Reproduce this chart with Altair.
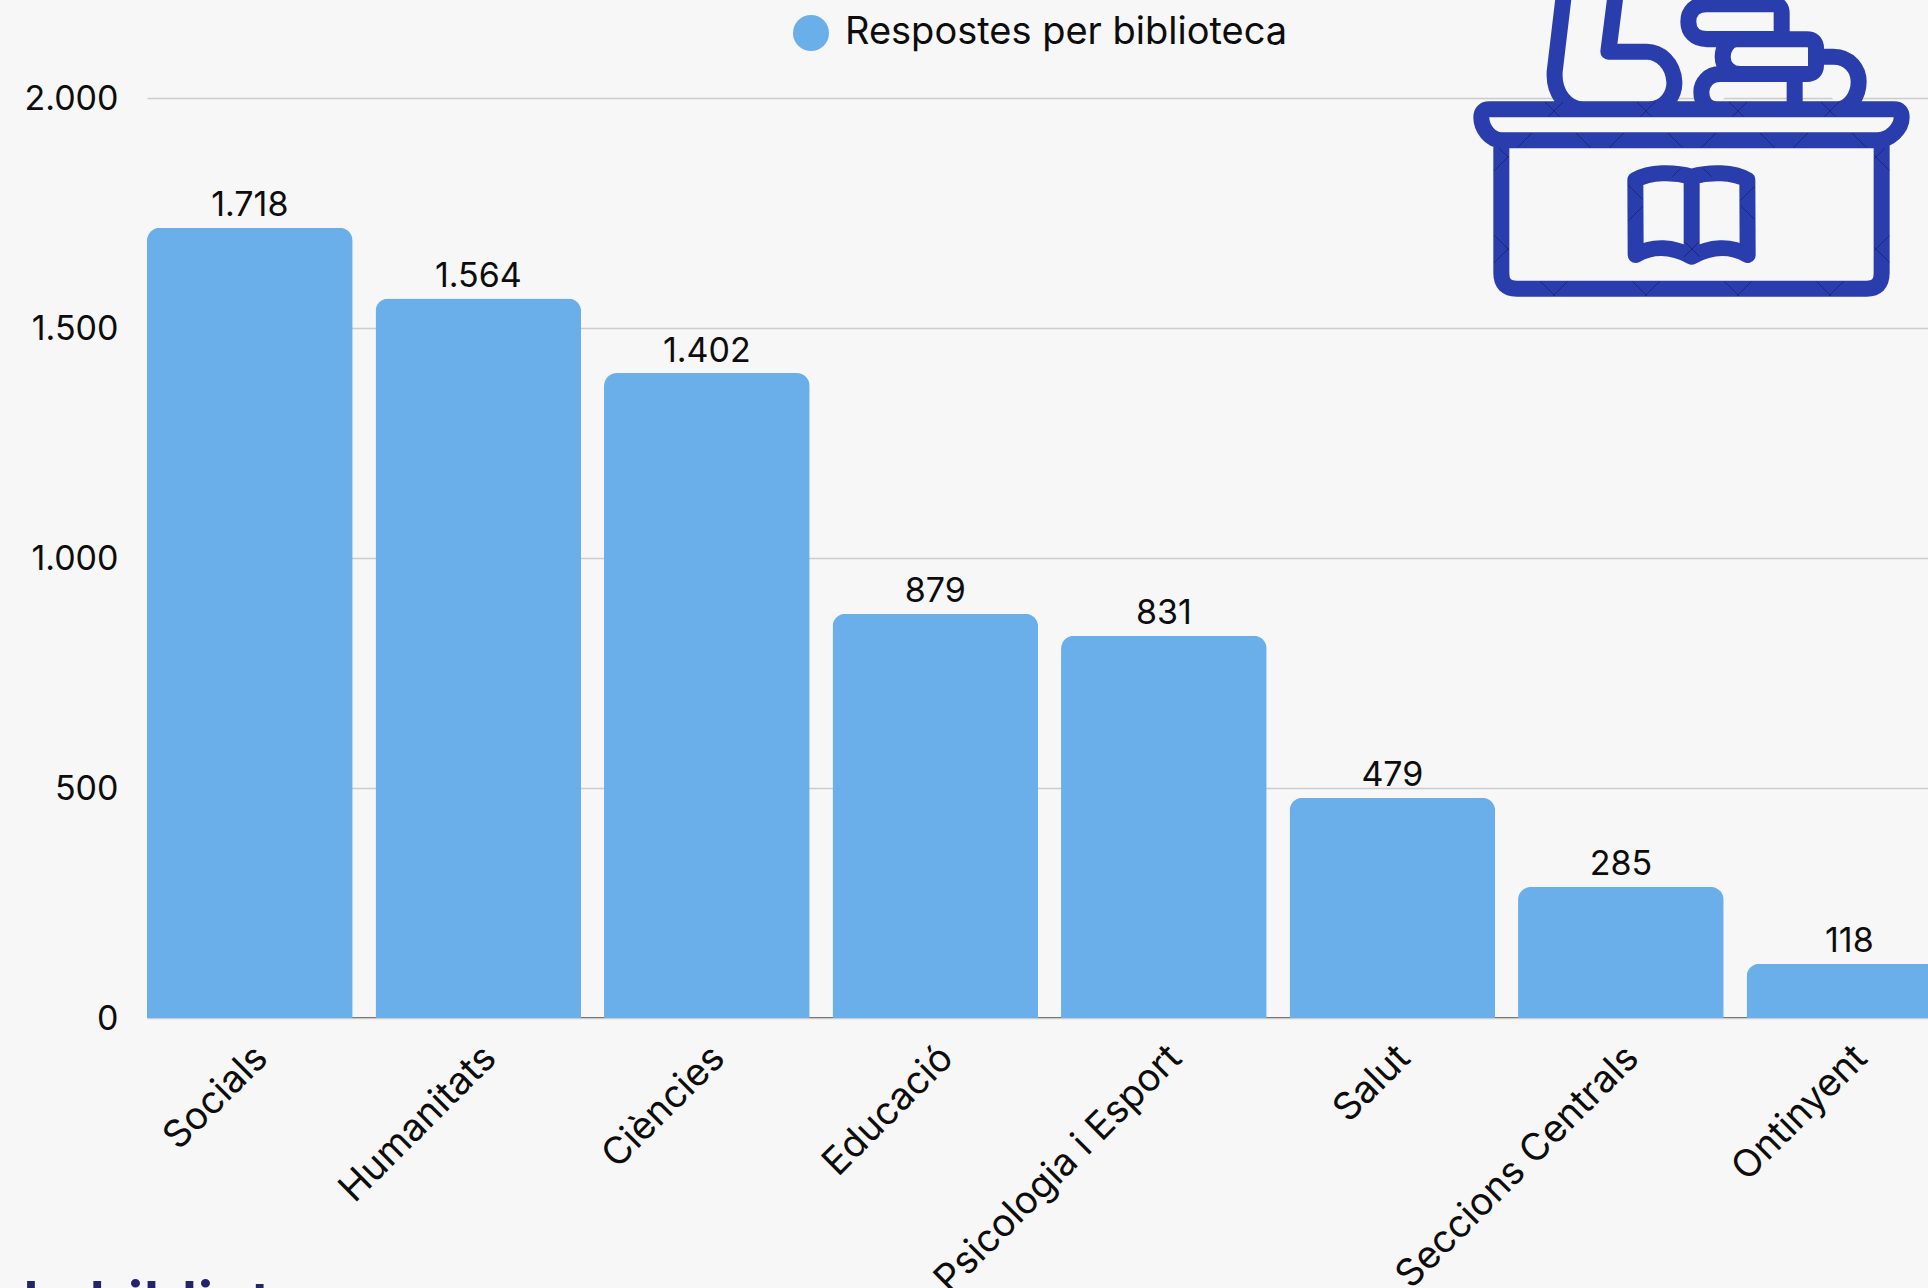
import re

import altair as alt
import pandas as pd

# Survey responses per library
libraries = ["Socials", "Humanitats", "Ciències", "Educació", "Psicologia i Esport",
             "Salut", "Seccions Centrals", "Ontinyent"]
responses = [1718, 1564, 1402, 879, 831, 479, 285, 118]
series_name = "Respostes per biblioteca"
y_ticks = [0, 500, 1000, 1500, 2000]
footer_text = "la biblioteca"

BACKGROUND = "#f7f7f7"
BAR = "#6bafea"
INK = "#0d0d0d"
NAVY = "#24246c"
ICON = "#2a3dac"
FONT = "Inter"

# Librarian-at-a-desk pictogram, outlined in absolute drawing units
ICON_CX, ICON_CY, ICON_R = 755.0, 400.0, 660.0
ICON_PATHS = [
    # counter top
    "M148 328 L1362 328 Q1385 328 1385 352 C1385 385 1350 421 1310 421 L185 421 C150 421 124 385 124 352 Q124 328 148 328 Z",
    # counter body
    "M184 421 L184 820 Q184 866 230 866 L1280 866 Q1325 866 1325 820 L1325 421",
    # open book
    "M755 530 C700 515 630 515 586 540 L587 765 C640 735 700 740 755 770 C810 740 870 735 923 765 L922 540 C880 515 810 515 755 530 Z M755 530 L755 770",
    # figure
    "M372 -20 L344 215 C340 280 380 328 430 328 L625 328 C680 328 705 280 703 245 C700 190 660 155 620 155 L505 155 L526 -10",
    # stacked books
    "M1025 117 L800 117 C765 117 745 95 745 65 C745 35 765 13 800 13 L1000 13 Q1025 13 1025 40 L1025 117",
    "M800 118 L1100 118 Q1128 118 1128 145 L1128 195 Q1128 222 1100 222 L900 222 C870 222 848 200 848 170 C848 145 865 118 890 118",
    "M900 222 L840 222 C805 222 784 250 784 275 C784 305 800 328 830 328",
    "M1064 222 L1064 328",
    "M1128 170 L1180 170 C1230 170 1256 210 1256 245 C1256 285 1230 328 1190 328",
]

# Straight stretches of the outline that carry the faint diamond lattice: x0, x1, y0, y1
LATTICE_BANDS = [
    (130, 1380, 306, 350), (175, 1335, 399, 443),
    (162, 206, 445, 820), (1303, 1348, 445, 820), (230, 1280, 844, 888),
    (564, 608, 545, 760), (902, 944, 545, 760), (733, 777, 550, 775),
    (600, 910, 505, 530), (620, 900, 735, 770),
]
LATTICE_STEP = 276
LATTICE_DIFF = 9
LATTICE_SUM = 675


def lattice_path():
    """Short diagonal strokes where the lattice lines cross each band."""
    parts = []
    for x0, x1, y0, y1 in LATTICE_BANDS:
        for n in range(-8, 12):
            for sign, offset in ((1, LATTICE_DIFF), (-1, LATTICE_SUM)):
                c = offset + LATTICE_STEP * n
                # y = x - c for the falling lines, y = c - x for the rising ones
                xa = max(x0, (y0 + c) if sign == 1 else (c - y1))
                xb = min(x1, (y1 + c) if sign == 1 else (c - y0))
                if xa < xb:
                    ya = xa - c if sign == 1 else c - xa
                    yb = xb - c if sign == 1 else c - xb
                    parts.append(f"M{xa} {ya} L{xb} {yb}")
    return " ".join(parts)


def unit_path(path):
    """Rescale x y pairs into the [-1, 1] box used for custom point shapes."""
    tokens = re.findall(r"-?\d+(?:\.\d+)?|[A-Za-z]", path)
    out, is_x = [], True
    for token in tokens:
        if token.isalpha():
            out.append(token)
            is_x = True
        else:
            centre = ICON_CX if is_x else ICON_CY
            out.append(f"{(float(token) - centre) / ICON_R:.4f}")
            is_x = not is_x
    return " ".join(out)


icon_shape = " ".join(unit_path(p) for p in ICON_PATHS)
lattice_shape = unit_path(lattice_path())

table = pd.DataFrame({"biblioteca": libraries, "respostes": responses, "serie": series_name})
table["etiqueta"] = [f"{v:,}".replace(",", ".") for v in responses]

x_scale = alt.Scale(domain=libraries, range=[0, 1805.2], paddingInner=0.1, paddingOuter=0)
y_scale = alt.Scale(domain=[0, 2000], nice=False)

base = alt.Chart(table)

bars = base.mark_bar(
    cornerRadiusTopLeft=13, cornerRadiusTopRight=13, clip=False
).encode(
    x=alt.X(
        "biblioteca:N", scale=x_scale, sort=libraries, title=None,
        axis=alt.Axis(
            labelAngle=315, labelAlign="right", labelBaseline="middle", labelFont=FONT,
            labelFontSize=38, labelColor=INK, labelPadding=35, labelOffset=12, tickSize=0,
            labelLimit=0, domainColor="#777777", domainWidth=1, grid=False, offset=-1,
        ),
    ),
    y=alt.Y(
        "respostes:Q", scale=y_scale, title=None,
        axis=alt.Axis(
            values=y_ticks, labelFont=FONT, labelFontSize=34, labelColor=INK, labelPadding=29,
            labelOffset=1, tickSize=0, domain=False, gridColor="#cccccc", gridWidth=1.6,
            labelExpr="replace(format(datum.value, ','), ',', '.')",
        ),
    ),
    color=alt.Color(
        "serie:N", scale=alt.Scale(domain=[series_name], range=[BAR]), title=None,
        legend=alt.Legend(
            orient="none", legendX=645, legendY=-84, symbolType="circle", symbolSize=1296,
            symbolStrokeWidth=0, labelFont=FONT, labelFontSize=38, labelColor=INK,
            labelLimit=0, labelOffset=15,
        ),
    ),
)

value_labels = base.mark_text(
    font=FONT, fontSize=34, color=INK, baseline="bottom", dy=-4.5
).encode(
    x=alt.X("biblioteca:N", scale=x_scale, sort=libraries),
    y=alt.Y("respostes:Q", scale=y_scale),
    text="etiqueta:N",
)

icon_row = pd.DataFrame({"nom": ["icona"]})
icon_x = 1440 + ICON_CX / 3 - 147
icon_y = ICON_CY / 3 - 98
icon_size = (2 * ICON_R / 3) ** 2

icon = alt.Chart(icon_row).mark_point(
    shape=icon_shape, filled=True, fill=BACKGROUND, stroke=ICON, strokeWidth=16,
    strokeCap="round", strokeJoin="round", opacity=1, size=icon_size, clip=False,
).encode(x=alt.value(icon_x), y=alt.value(icon_y))

lattice = alt.Chart(icon_row).mark_point(
    shape=lattice_shape, filled=False, stroke="#1b2572", strokeWidth=1, opacity=0.85,
    size=icon_size, clip=False,
).encode(x=alt.value(icon_x), y=alt.value(icon_y))

footer = alt.Chart(pd.DataFrame({"text": [footer_text]})).mark_text(
    font=FONT, fontSize=61, fontWeight=600, color=NAVY, align="left", baseline="alphabetic"
).encode(
    x=alt.value(23 - 147),
    y=alt.value(1325 - 98),
    text="text:N",
)

chart = (
    alt.layer(bars, value_labels, icon, lattice, footer)
    .properties(
        width=1781,
        height=920,
        background=BACKGROUND,
        padding={"left": 147, "top": 98, "right": 0, "bottom": 270},
        autosize=alt.AutoSizeParams(type="none"),
    )
    .configure_view(stroke=None)
)

chart.save("out.html", embed_options={"renderer": "svg", "actions": False})
